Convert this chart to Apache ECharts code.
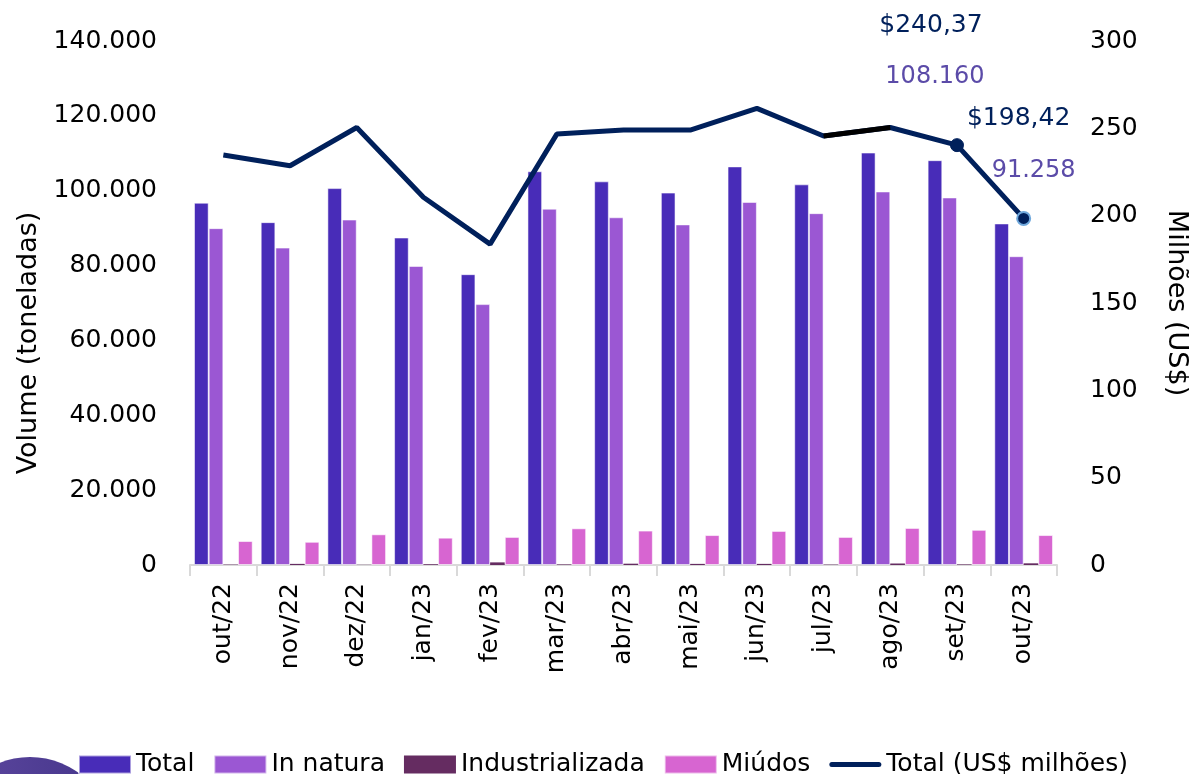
<!DOCTYPE html>
<html>
<head>
<meta charset="utf-8">
<script src="https://cdn.jsdelivr.net/npm/echarts@6/dist/echarts.min.js"></script>
<style>
  html, body { margin: 0; padding: 0; background: #fff; }
  #chart { width: 1199px; height: 774px; }
</style>
</head>
<body>
<div id="chart"></div>
<script>
// categorias (meses)
var months = ['out/22', 'nov/22', 'dez/22', 'jan/23', 'fev/23', 'mar/23', 'abr/23',
  'mai/23', 'jun/23', 'jul/23', 'ago/23', 'set/23', 'out/23'];

// volumes em toneladas
var volTotal = [96800, 91600, 100700, 87500, 77700, 105200, 102500, 99500, 106500, 101700, 110200, 108160, 91258];
var volInNatura = [90000, 84800, 92300, 79900, 69700, 95200, 92900, 91000, 97000, 94000, 99800, 98200, 82500];
var volIndustrializada = [100, 300, 50, 200, 700, 150, 350, 300, 300, 100, 400, 150, 450];
var volMiudos = [6400, 6200, 8200, 7300, 7500, 9800, 9200, 8000, 9100, 7500, 9900, 9400, 8000];

// receita em US$ milhões
var usdTotal = [234.7, 228.6, 250.5, 210.5, 183.7, 246.7, 249.0, 249.0, 261.4, 245.6, 250.5, 240.37, 198.42];

var FONT = 'DejaVu Sans';

function fmtVol(v) {
  return String(Math.round(v)).replace(/\B(?=(\d{3})+(?!\d))/g, '.');
}
function fmtUsd(v) {
  return '$' + v.toFixed(2).replace('.', ',');
}

var chart = echarts.init(document.getElementById('chart'));

// pontos destacados (set/23 e out/23) com rótulos
var lineData = usdTotal.map(function (v, i) {
  if (i === 11) {
    return {
      value: v, symbol: 'circle', symbolSize: 13,
      itemStyle: { color: '#00205B', borderColor: '#00205B' },
      label: {
        show: true, position: 'top', distance: 35, offset: [-26, 0], align: 'center',
        formatter: function () {
          return '{a|' + fmtUsd(usdTotal[11]) + '}\n{b|' + fmtVol(volTotal[11]) + '}';
        }
      }
    };
  }
  if (i === 12) {
    return {
      value: v, symbol: 'circle', symbolSize: 13,
      itemStyle: { color: '#00205B', borderColor: '#6FA8DC', borderWidth: 2 },
      label: {
        show: true, position: 'top', distance: 14, offset: [-5, 0], align: 'center',
        formatter: function () {
          return '{a|' + fmtUsd(usdTotal[12]) + '}\n{c|' + fmtVol(volTotal[12]) + '}';
        }
      }
    };
  }
  return v;
});

// trecho jul/23-ago/23 desenhado em preto
var blackSeg = usdTotal.map(function (v, i) { return (i === 9 || i === 10) ? v : null; });

var barBorder = { borderColor: 'rgba(255,255,255,0.55)', borderWidth: 1 };

var option = {
  animation: false,
  textStyle: { fontFamily: FONT },
  grid: { left: 190, right: 142, top: 41, bottom: 209 },
  legend: {
    top: 747,
    left: 73,
    itemWidth: 52,
    itemHeight: 18,
    itemGap: 19,
    textStyle: { fontFamily: FONT, fontSize: 25, color: '#000' },
    data: [
      { name: 'Total', icon: 'rect' },
      { name: 'In natura', icon: 'rect' },
      { name: 'Industrializada', icon: 'rect' },
      { name: 'Miúdos', icon: 'rect' },
      { name: 'Total (US$ milhões)', icon: 'path://M0,0M0,18M2.5,6.5L49.5,6.5A2.5,2.5,0,0,1,49.5,11.5L2.5,11.5A2.5,2.5,0,0,1,2.5,6.5Z' }
    ]
  },
  graphic: [{
    type: 'circle',
    shape: { cx: 30, cy: 839, r: 82 },
    style: {
      fill: new echarts.graphic.LinearGradient(0, 0, 1, 0, [
        { offset: 0, color: '#5E48A0' },
        { offset: 1, color: '#44358A' }
      ])
    },
    z: -1
  }],
  xAxis: {
    type: 'category',
    data: months,
    axisLine: { lineStyle: { color: '#D9D9D9', width: 2 } },
    axisTick: { show: true, length: 11, interval: 0, lineStyle: { color: '#D9D9D9', width: 2 } },
    axisLabel: { rotate: 90, fontSize: 25, color: '#000', margin: 18, interval: 0, fontFamily: FONT }
  },
  yAxis: [{
    type: 'value',
    min: 0, max: 140000, interval: 20000,
    name: 'Volume (toneladas)',
    nameLocation: 'middle',
    nameGap: 146,
    nameTextStyle: { fontSize: 27, color: '#000', fontFamily: FONT, padding: [0, 80, 0, 0] },
    splitLine: { show: false },
    axisLine: { show: false },
    axisTick: { show: false },
    axisLabel: { fontSize: 25, color: '#000', margin: 33, fontFamily: FONT, formatter: fmtVol }
  }, {
    type: 'value',
    min: 0, max: 300, interval: 50,
    name: 'Milhões (US$)',
    nameLocation: 'middle',
    nameGap: 106,
    nameRotate: -90,
    nameTextStyle: { fontSize: 27, color: '#000', fontFamily: FONT },
    splitLine: { show: false },
    axisLine: { show: false },
    axisTick: { show: false },
    axisLabel: { fontSize: 25, color: '#000', margin: 33, fontFamily: FONT }
  }],
  series: [{
    name: 'Total', type: 'bar', data: volTotal,
    barGap: '0%', barCategoryGap: '12%',
    itemStyle: Object.assign({ color: '#482CB8' }, barBorder)
  }, {
    name: 'In natura', type: 'bar', data: volInNatura,
    itemStyle: Object.assign({ color: '#9B57D3' }, barBorder)
  }, {
    name: 'Industrializada', type: 'bar', data: volIndustrializada,
    itemStyle: { color: '#652C61' }
  }, {
    name: 'Miúdos', type: 'bar', data: volMiudos,
    itemStyle: Object.assign({ color: '#D765D1' }, barBorder)
  }, {
    name: 'Total (US$ milhões)', type: 'line', yAxisIndex: 1, data: lineData,
    symbol: 'none',
    lineStyle: { color: '#00205B', width: 5 },
    itemStyle: { color: '#00205B' },
    z: 5,
    label: {
      fontFamily: FONT,
      rich: {
        a: { fontSize: 25, color: '#00205B', lineHeight: 52, fontFamily: FONT },
        b: { fontSize: 24, color: '#5B4BA8', lineHeight: 52, fontFamily: FONT, padding: [0, 0, 0, 8] },
        c: { fontSize: 24, color: '#5B4BA8', lineHeight: 52, fontFamily: FONT, padding: [0, 0, 0, 30] }
      }
    }
  }, {
    name: 'seg', type: 'line', yAxisIndex: 1, data: blackSeg,
    symbol: 'none',
    lineStyle: { color: '#000', width: 5 },
    z: 6,
    silent: true
  }]
};

chart.setOption(option);
window.onresize = chart.resize;
</script>
</body>
</html>
